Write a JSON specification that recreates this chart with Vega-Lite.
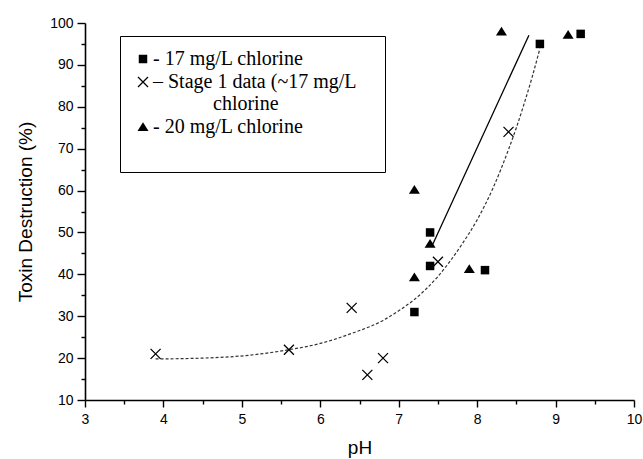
{
  "$schema": "https://vega.github.io/schema/vega-lite/v6.json",
  "width": 549,
  "height": 377,
  "autosize": {"type": "none"},
  "padding": {"left": 85, "top": 23, "right": 9, "bottom": 59},
  "background": "white",
  "config": {
    "view": {"stroke": null},
    "axis": {
      "grid": false,
      "domainColor": "black",
      "tickColor": "black",
      "labelColor": "black",
      "titleColor": "black",
      "labelFont": "Liberation Sans",
      "titleFont": "Liberation Sans",
      "labelFontSize": 14,
      "titleFontSize": 19,
      "titleFontWeight": "normal",
      "domainWidth": 1.6,
      "tickWidth": 1.4
    }
  },
  "datasets": {
    "points": [
      {"series": "17 mg/L chlorine", "pH": 7.2, "destruction": 31},
      {"series": "17 mg/L chlorine", "pH": 7.4, "destruction": 50},
      {"series": "17 mg/L chlorine", "pH": 7.4, "destruction": 42},
      {"series": "17 mg/L chlorine", "pH": 8.1, "destruction": 41},
      {"series": "17 mg/L chlorine", "pH": 8.8, "destruction": 95},
      {"series": "17 mg/L chlorine", "pH": 9.32, "destruction": 97.4},
      {"series": "Stage 1 data (~17 mg/L chlorine", "pH": 3.9, "destruction": 21},
      {"series": "Stage 1 data (~17 mg/L chlorine", "pH": 5.6, "destruction": 22},
      {"series": "Stage 1 data (~17 mg/L chlorine", "pH": 6.4, "destruction": 32},
      {"series": "Stage 1 data (~17 mg/L chlorine", "pH": 6.6, "destruction": 16},
      {"series": "Stage 1 data (~17 mg/L chlorine", "pH": 6.8, "destruction": 20},
      {"series": "Stage 1 data (~17 mg/L chlorine", "pH": 7.5, "destruction": 43},
      {"series": "Stage 1 data (~17 mg/L chlorine", "pH": 8.4, "destruction": 74},
      {"series": "20 mg/L chlorine", "pH": 7.2, "destruction": 60.2},
      {"series": "20 mg/L chlorine", "pH": 7.2, "destruction": 39.3},
      {"series": "20 mg/L chlorine", "pH": 7.4, "destruction": 47.3},
      {"series": "20 mg/L chlorine", "pH": 7.9, "destruction": 41.3},
      {"series": "20 mg/L chlorine", "pH": 8.31, "destruction": 98},
      {"series": "20 mg/L chlorine", "pH": 9.16, "destruction": 97.2}
    ],
    "fit17": [
      {"pH": 7.43, "destruction": 47.0},
      {"pH": 8.66, "destruction": 97.1}
    ],
    "fitStage1": [
      {"pH": 3.9, "destruction": 19.8},
      {"pH": 4.5, "destruction": 20.0},
      {"pH": 5.1, "destruction": 20.7},
      {"pH": 5.6, "destruction": 22.0},
      {"pH": 6.0, "destruction": 23.5},
      {"pH": 6.4, "destruction": 25.9},
      {"pH": 6.8, "destruction": 29.0},
      {"pH": 7.0, "destruction": 31.3},
      {"pH": 7.2, "destruction": 34.0},
      {"pH": 7.5, "destruction": 39.5},
      {"pH": 7.8, "destruction": 47.0},
      {"pH": 8.0, "destruction": 53.0},
      {"pH": 8.2, "destruction": 60.5},
      {"pH": 8.4, "destruction": 69.8},
      {"pH": 8.5, "destruction": 75.0},
      {"pH": 8.6, "destruction": 80.8},
      {"pH": 8.7, "destruction": 87.0},
      {"pH": 8.8, "destruction": 93.9}
    ]
  },
  "encoding": {
    "x": {
      "field": "pH", "type": "quantitative",
      "scale": {"domain": [3, 10], "nice": false, "zero": false},
      "axis": {
        "values": [3, 3.5, 4, 4.5, 5, 5.5, 6, 6.5, 7, 7.5, 8, 8.5, 9, 9.5, 10],
        "labelExpr": "datum.value % 1 == 0 ? format(datum.value, 'd') : ''",
        "tickSize": {"condition": {"test": "datum.value % 1 != 0", "value": 4}, "value": 7},
        "labelPadding": 5, "title": "pH", "titlePadding": 12, "labelFlush": false
      }
    },
    "y": {
      "field": "destruction", "type": "quantitative",
      "scale": {"domain": [10, 100], "nice": false, "zero": false},
      "axis": {
        "values": [10, 15, 20, 25, 30, 35, 40, 45, 50, 55, 60, 65, 70, 75, 80, 85, 90, 95, 100],
        "labelExpr": "datum.value % 10 == 0 ? format(datum.value, 'd') : ''",
        "tickSize": {"condition": {"test": "datum.value % 10 != 0", "value": 4}, "value": 8},
        "labelPadding": 4, "title": "Toxin Destruction (%)", "titlePadding": 14, "labelFlush": false
      }
    }
  },
  "layer": [
    {
      "data": {"name": "fitStage1"},
      "mark": {"type": "line", "color": "#333333", "strokeWidth": 1.2, "strokeDash": [3, 2], "interpolate": "monotone"}
    },
    {
      "data": {"name": "fit17"},
      "mark": {"type": "line", "color": "black", "strokeWidth": 1.3}
    },
    {
      "data": {"name": "points"},
      "mark": {"type": "point", "filled": true, "color": "black", "fillOpacity": 1, "opacity": 1, "strokeWidth": 0, "size": 100},
      "encoding": {
        "shape": {
          "field": "series", "type": "nominal",
          "scale": {
            "domain": ["17 mg/L chlorine", "Stage 1 data (~17 mg/L chlorine", "20 mg/L chlorine"],
            "range": [
              "M-0.85,-0.85H0.85V0.85H-0.85Z",
              "M-1.09,-0.91L0.91,1.09L1.09,0.91L-0.91,-1.09ZM-0.91,1.09L1.09,-0.91L0.91,-1.09L-1.09,0.91Z",
              "M0,-0.95L1.1,0.8L-1.1,0.8Z"
            ]
          },
          "legend": {
            "title": null,
            "orient": "none",
            "legendX": 35,
            "legendY": 13,
            "strokeColor": "black",
            "fillColor": "white",
            "padding": 13,
            "labelFont": "Liberation Serif",
            "labelFontSize": 20,
            "labelColor": "black",
            "labelLimit": 400,
            "labelOffset": 0,
            "rowPadding": 3,
            "symbolSize": 100,
            "symbolStrokeWidth": 0,
            "symbolFillColor": "black",
            "labelExpr": "datum.value == '17 mg/L chlorine' ? '- 17 mg/L chlorine' : datum.value == '20 mg/L chlorine' ? ['- 20 mg/L chlorine', '\u200b\u00a0'] : ['– Stage 1 data (~17 mg/L\u00a0\u00a0\u00a0\u200b', '\u200b\u00a0\u00a0\u00a0\u00a0\u00a0\u00a0\u00a0\u00a0\u00a0\u00a0\u00a0\u00a0chlorine']"
          }
        }
      }
    }
  ]
}
